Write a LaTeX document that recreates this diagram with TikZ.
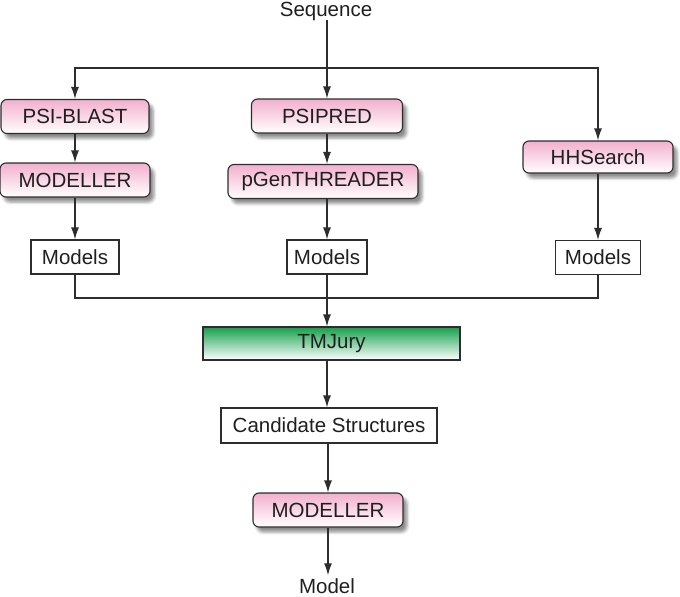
\documentclass[tikz,border=0pt]{standalone}
\usepackage{fontspec}
\setmainfont{Liberation Sans}
\usetikzlibrary{arrows.meta,shadows.blur}
\definecolor{pinktop}{RGB}{242,176,205}
\definecolor{greentop}{RGB}{22,160,75}
\definecolor{edge}{RGB}{45,45,45}
\begin{document}
\begin{tikzpicture}[x=1pt,y=1pt,
  every node/.style={font=\fontsize{20.5}{24}\selectfont, inner sep=0pt, text=black!88},
  pinkbox/.style={draw=edge, line width=1.1pt, rounded corners=6pt, top color=pinktop, bottom color=white, minimum height=34pt,
    blur shadow={shadow xshift=4pt, shadow yshift=-5pt, shadow blur radius=3pt, shadow opacity=45}},
  whitebox/.style={draw=edge, line width=1.1pt, fill=white, minimum height=34pt},
  greenbox/.style={draw=edge, line width=1.1pt, top color=greentop, bottom color=white, minimum height=33pt},
  conn/.style={draw=edge, line width=1.2pt},
  arr/.style={conn, -{Latex[length=12pt,width=8pt]}}]
\useasboundingbox (0,0) rectangle (680,-597);

\node (seq) at (326,-11) {Sequence};
\node[pinkbox, minimum width=148pt] (psiblast) at (75,-116.5) {PSI-BLAST};
\node[pinkbox, minimum width=150pt] (modeller1) at (75,-180) {MODELLER};
\node[whitebox, minimum width=88pt] (models1) at (75,-257) {Models};
\node[pinkbox, minimum width=151pt] (psipred) at (327,-116) {PSIPRED};
\node[pinkbox, minimum width=190pt] (pgen) at (323,-181.5) {pGenTHREADER};
\node[whitebox, minimum width=80pt] (models2) at (327,-257) {Models};
\node[pinkbox, minimum width=150pt, minimum height=32pt] (hhsearch) at (598,-157) {HHSearch};
\node[whitebox, minimum width=85pt] (models3) at (598,-257.5) {Models};
\node[greenbox, minimum width=257pt] (tmjury) at (331.5,-343.5) {TMJury};
\node[whitebox, minimum width=216pt, minimum height=35pt] (cand) at (329,-425.5) {Candidate Structures};
\node[pinkbox, minimum width=150pt] (modeller2) at (328,-510) {MODELLER};
\node (model) at (327,-586) {Model};

\coordinate (top) at (327,-68);
\coordinate (bot) at (327,-298);

\draw[arr] (seq.south -| psipred) -- (psipred.north);
\draw[arr] (top) -| (psiblast.north);
\draw[arr] (top) -| (hhsearch.north);
\draw[arr] (psiblast) -- (modeller1);
\draw[arr] (modeller1) -- (models1);
\draw[arr] (psipred.south) -- (psipred.south |- pgen.north);
\draw[arr] (pgen.south -| models2) -- (models2.north);
\draw[arr] (hhsearch) -- (models3);
\draw[conn] (models1.south) |- (bot);
\draw[conn] (models3.south) |- (bot);
\draw[arr] (models2.south) -- (models2.south |- tmjury.north);
\draw[arr] (tmjury.south -| models2) -- (cand.north -| models2);
\draw[arr] (cand.south -| modeller2) -- (modeller2.north);
\draw[arr] (modeller2.south) -- ([yshift=3pt]model.north -| modeller2);
\end{tikzpicture}
\end{document}
